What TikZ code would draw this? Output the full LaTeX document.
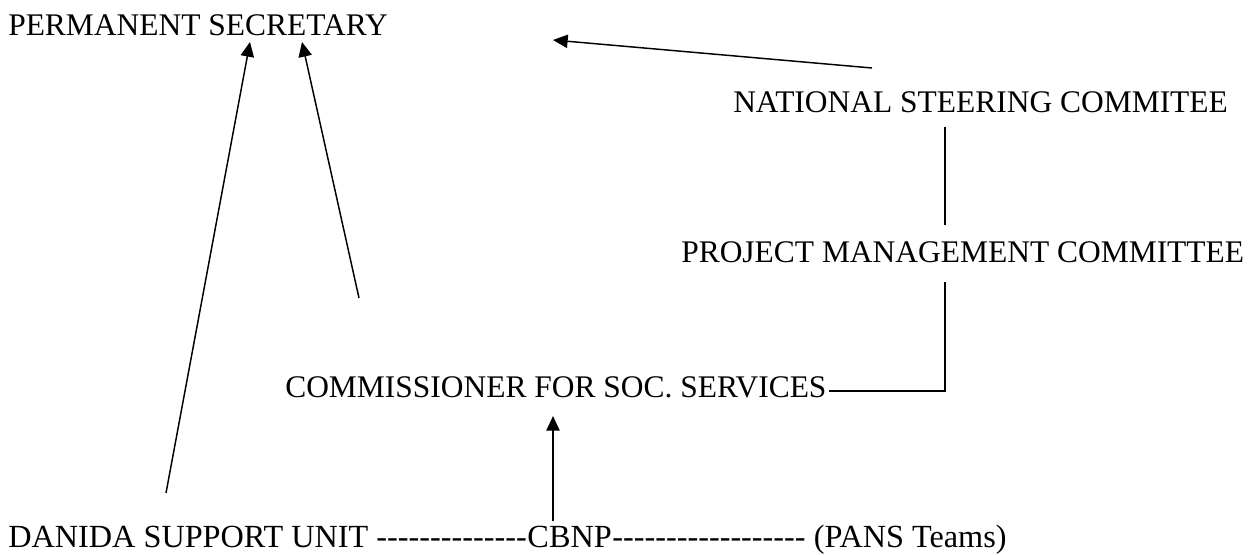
\documentclass[tikz,border=0pt]{standalone}
\usepackage{fontspec}
\setmainfont{Liberation Serif}[Ligatures = TeXOff]
\usetikzlibrary{arrows.meta, positioning, calc}

\begin{document}
\begin{tikzpicture}[x = 0.75pt, y = -0.75pt,
    testo/.style = {inner sep = 0pt, anchor = base west, font = \fontsize{23.6}{28}\selectfont},
    riga/.style = {testo, font = \fontsize{24.2}{29}\selectfont},
    freccia/.style = {line width = 1.1pt, -{Triangle[length = 11pt, width = 10pt]}},
    linea/.style = {line width = 1.1pt}]
    \useasboundingbox (0,0) rectangle (1257,554);
    % Nodi
    \node[testo] (ps) at (8,35) {PERMANENT SECRETARY};
    \node[testo] (nsc) at (733,112) {NATIONAL STEERING COMMITEE};
    \node[testo] (pmc) at (681,262) {PROJECT MANAGEMENT COMMITTEE};
    \node[testo] (cfss) at (285,397) {COMMISSIONER FOR SOC. SERVICES};
    % Riga in basso
    \node[riga] (dsu) at (8,547) {DANIDA SUPPORT UNIT --------------};
    \node[riga, base right = 0pt of dsu] (cbnp) {CBNP};
    \node[riga, base right = 0pt of cbnp] (pans) {------------------ (PANS Teams)};
    % Frecce verso PS
    \draw[freccia] ($(dsu.base west)+(158,-54)$) -- ($(ps.base west)+(242,7)$);
    \draw[freccia] ($(cfss.base west)+(74,-99)$) -- ($(ps.base west)+(294,7)$);
    \draw[freccia] ($(nsc.base west)+(139,-44)$) -- ($(ps.base west)+(545,5)$);
    % Linee
    \draw[linea] ($(nsc.base west)+(212,15)$) -- ($(pmc.base west)+(264,-37)$);
    \draw[linea] ($(pmc.base west)+(264,20)$) |- ($(cfss.base east)+(2,-6)$);
    % CBNP
    \coordinate (punta) at ($(cfss.base west)+(268,19)$);
    \draw[freccia] ([yshift = 3pt]punta |- cbnp.north) -- (punta);
\end{tikzpicture}
\end{document}
